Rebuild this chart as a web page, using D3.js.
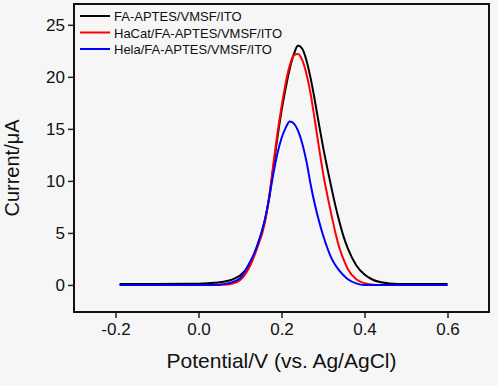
<!DOCTYPE html>
<html>
<head>
<meta charset="utf-8">
<script src="https://cdn.jsdelivr.net/npm/d3@7"></script>
<style>
  html, body { margin: 0; padding: 0; background: #f6f6f6; }
  svg { display: block; font-family: "Liberation Sans", Arial, sans-serif; }
</style>
</head>
<body>
<div class="chart-area"></div>
<script>
// DPV curves, potential (V) vs current (uA)

// ---- Data ----
const potentials = [-0.19, -0.1, 0.0, 0.04, 0.06, 0.08, 0.10, 0.12, 0.14, 0.16,
  0.17, 0.18, 0.19, 0.20, 0.21, 0.22, 0.23, 0.24, 0.25, 0.26,
  0.27, 0.28, 0.29, 0.30, 0.31, 0.32, 0.33, 0.34, 0.35, 0.36,
  0.38, 0.40, 0.42, 0.44, 0.46, 0.50, 0.6];

const faAptes = [0.1, 0.1, 0.12, 0.2, 0.3, 0.5, 0.9, 1.8, 3.6, 6.2,
  8.3, 11.2, 14.1, 16.7, 18.9, 20.8, 22.2, 23.0, 22.7, 21.6,
  19.9, 17.8, 15.5, 13.3, 11.3, 9.4, 7.6, 6.0, 4.6, 3.5,
  1.9, 1.0, 0.5, 0.25, 0.15, 0.1, 0.1];

const hacatFa = [0, 0, 0, 0, 0.02, 0.12, 0.45, 1.5, 3.4, 6.0,
  8.4, 11.5, 14.5, 17.1, 19.4, 21.1, 22.1, 22.2, 21.6, 20.3,
  18.4, 15.9, 13.3, 10.8, 8.7, 6.8, 5.0, 3.5, 2.4, 1.5,
  0.55, 0.16, 0.03, 0, 0, 0, 0];

const helaFa = [0, 0, 0, 0, 0.08, 0.25, 0.65, 1.9, 3.6, 6.3,
  8.3, 10.6, 12.6, 14.1, 15.1, 15.7, 15.5, 14.8, 13.6, 11.9,
  9.7, 7.8, 6.2, 4.8, 3.6, 2.6, 1.9, 1.35, 0.9, 0.55,
  0.15, 0, 0, 0, 0, 0, 0];

const seriesNames = ["FA-APTES/VMSF/ITO", "HaCat/FA-APTES/VMSF/ITO", "Hela/FA-APTES/VMSF/ITO"];
const seriesColors = ["#000000", "#ff0000", "#0000ff"];

const xTicks = [-0.2, 0.0, 0.2, 0.4, 0.6];
const yTicks = [0, 5, 10, 15, 20, 25];

// ---- Sizes ----
const width = 498, height = 386;
const margin = { left: 74, right: 9, top: 4, bottom: 74 };

const svg = d3.select(".chart-area").append("svg")
    .attr("width", width)
    .attr("height", height);

const x = d3.scaleLinear()
    .domain([-0.3, 0.7])
    .range([margin.left, width - margin.right]);

const y = d3.scaleLinear()
    .domain([-2.6, 27])
    .range([height - margin.bottom, margin.top]);

// Axes
const xAxis = svg.append("g")
    .attr("transform", `translate(0, ${height - margin.bottom})`)
    .call(d3.axisBottom(x).tickValues(xTicks).tickFormat(d => d.toFixed(1)).tickSize(6).tickPadding(5));

const yAxis = svg.append("g")
    .attr("transform", `translate(${margin.left}, 0)`)
    .call(d3.axisLeft(y).tickValues(yTicks).tickSize(6).tickPadding(3));

[xAxis, yAxis].forEach(a => {
    a.select(".domain").remove();
    a.selectAll("line").attr("stroke", "#222").attr("stroke-width", 1.5);
    a.selectAll("text")
        .attr("fill", "#111")
        .style("font-size", "17px");
});

// Lines
const lines = [faAptes, hacatFa, helaFa];

const line = d3.line()
    .x((d, i) => x(potentials[i]))
    .y(d => y(d))
    .curve(d3.curveMonotoneX);

svg.selectAll("path.curve")
    .data(lines)
    .join("path")
    .attr("class", "curve")
    .attr("d", d => line(d))
    .attr("fill", "none")
    .attr("stroke", (d, i) => seriesColors[i])
    .attr("stroke-width", 2);

// Frame
svg.append("rect")
    .attr("x", margin.left)
    .attr("y", margin.top)
    .attr("width", width - margin.left - margin.right)
    .attr("height", height - margin.top - margin.bottom)
    .attr("fill", "none")
    .attr("stroke", "#111")
    .attr("stroke-width", 2);

// Legend
const legend = svg.append("g")
    .attr("transform", `translate(80, 16)`);

seriesNames.forEach((name, i) => {
    const g = legend.append("g").attr("transform", `translate(0, ${i * 16.5})`);
    g.append("line")
        .attr("x1", 0).attr("x2", 30)
        .attr("stroke", seriesColors[i])
        .attr("stroke-width", 2);
    g.append("text")
        .attr("x", 34)
        .attr("y", 5)
        .style("font-size", "13px")
        .attr("fill", "#111")
        .text(name);
});

// Axis titles
svg.append("text")
    .attr("x", (margin.left + width - margin.right) / 2)
    .attr("y", 368)
    .attr("text-anchor", "middle")
    .style("font-size", "21px")
    .attr("fill", "#111")
    .text("Potential/V (vs. Ag/AgCl)");

svg.append("text")
    .attr("transform", `translate(19, 168) rotate(-90)`)
    .attr("text-anchor", "middle")
    .style("font-size", "20px")
    .attr("fill", "#111")
    .text("Current/μA");
</script>
</body>
</html>
